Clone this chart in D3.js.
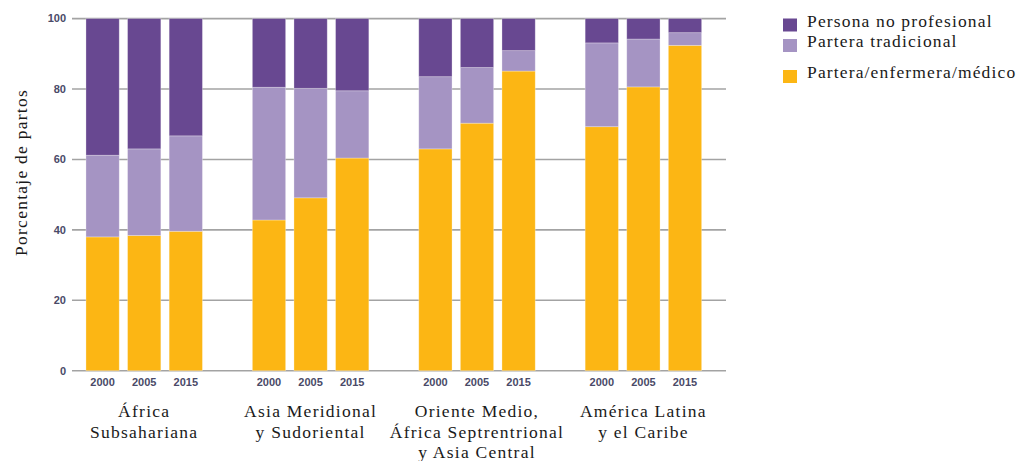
<!DOCTYPE html>
<html>
<head>
<meta charset="utf-8">
<script src="https://cdn.jsdelivr.net/npm/d3@7"></script>
<style>
  html, body { margin: 0; padding: 0; background: #fff; }
  svg { display: block; }
</style>
</head>
<body>
<svg id="chart" width="1018" height="461"></svg>
<script>
// ---- Data ----
const regions = [
  ["África", "Subsahariana"],
  ["Asia Meridional", "y Sudoriental"],
  ["Oriente Medio,", "África Septrentrional", "y Asia Central"],
  ["América Latina", "y el Caribe"]
];
const years = ["2000", "2005", "2015"];
const seriesNames = ["Partera/enfermera/médico", "Partera tradicional", "Persona no profesional"];
// values per bar, ordered region by region, year by year
const profesional   = [38.0, 38.4, 39.6, 42.8, 49.1, 60.4, 63.0, 70.3, 85.1, 69.3, 80.6, 92.4];
const tradicional   = [23.2, 24.6, 27.1, 37.7, 31.1, 19.1, 20.5, 15.8,  5.8, 23.8, 13.6,  3.6];
const noProfesional = [38.8, 37.0, 33.3, 19.5, 19.8, 20.5, 16.5, 13.9,  9.1,  6.9,  5.8,  4.0];
const yTicks = [0, 20, 40, 60, 80, 100];
const legendOrder = ["Persona no profesional", "Partera tradicional", "Partera/enfermera/médico"];
const colors = { "Partera/enfermera/médico": "#fcb614", "Partera tradicional": "#a594c3", "Persona no profesional": "#684891" };

// ---- Build rows ----
const rows = [];
regions.forEach((r, g) => {
  years.forEach((yr, i) => {
    const k = g * years.length + i;
    rows.push({
      slot: g * (years.length + 1) + i,
      region: g, year: yr,
      "Partera/enfermera/médico": profesional[k],
      "Partera tradicional": tradicional[k],
      "Persona no profesional": noProfesional[k]
    });
  });
});

const svg = d3.select("#chart");
const nSlots = regions.length * (years.length + 1) - 1;

const x = d3.scaleBand()
  .domain(d3.range(nSlots))
  .range([81.8, 705.8])
  .paddingInner(0.2)
  .paddingOuter(0.1);

const y = d3.scaleLinear().domain([0, 100]).range([370.7, 18.6]);

const tickFill = "#4a4a68";
const sans = "'Liberation Sans', Arial, sans-serif";
const serif = "'Liberation Serif', 'Times New Roman', serif";

// gridlines
svg.append("g").selectAll("line").data(yTicks).join("line")
  .attr("x1", 72).attr("x2", 726)
  .attr("y1", d => y(d)).attr("y2", d => y(d))
  .attr("stroke", "#a3a3a3").attr("stroke-width", 1.6);

// y tick labels
svg.append("g").selectAll("text").data(yTicks).join("text")
  .attr("x", 66).attr("y", d => y(d)).attr("dy", "0.35em")
  .attr("text-anchor", "end")
  .style("font-family", sans)
  .attr("font-size", 11).attr("font-weight", "bold")
  .attr("fill", tickFill)
  .text(d => d);

// stacked bars
const stack = d3.stack().keys(seriesNames);
const layers = stack(rows);
svg.append("g").selectAll("g").data(layers).join("g")
  .attr("fill", d => colors[d.key])
  .selectAll("rect").data(d => d).join("rect")
  .attr("x", d => x(d.data.slot))
  .attr("width", x.bandwidth())
  .attr("y", d => y(d[1]))
  .attr("height", d => y(d[0]) - y(d[1]))
  .attr("stroke", "rgba(255,255,255,0.35)")
  .attr("stroke-width", 0.8);

// year labels
svg.append("g").selectAll("text").data(rows).join("text")
  .attr("x", d => x(d.slot) + x.bandwidth() / 2)
  .attr("y", 385.5)
  .attr("text-anchor", "middle")
  .style("font-family", sans)
  .attr("font-size", 11).attr("font-weight", "bold")
  .attr("fill", tickFill)
  .text(d => d.year);

// region labels
const rg = svg.append("g");
regions.forEach((lines, g) => {
  const mid = x(g * (years.length + 1) + 1) + x.bandwidth() / 2;
  const t = rg.append("text")
    .attr("text-anchor", "middle")
    .style("font-family", serif)
    .attr("font-size", 17.5)
    .attr("letter-spacing", 1.25)
    .attr("fill", "#1a1a1a");
  lines.forEach((ln, i) => {
    t.append("tspan").attr("x", mid).attr("y", 416.7 + i * 20.8).text(ln);
  });
});

// y axis title
svg.append("text")
  .attr("transform", "translate(27,172.5) rotate(-90)")
  .attr("text-anchor", "middle")
  .style("font-family", serif)
  .attr("font-size", 17.5)
  .attr("letter-spacing", 1.25)
  .attr("fill", "#1a1a1a")
  .text("Porcentaje de partos");

// legend
const legendY = [25.5, 46, 77];
const lg = svg.append("g");
legendOrder.forEach((name, i) => {
  lg.append("rect")
    .attr("x", 783).attr("y", legendY[i] - 7)
    .attr("width", 14).attr("height", 13)
    .attr("fill", colors[name]);
  lg.append("text")
    .attr("x", 807).attr("y", legendY[i] + 1.3)
    .style("font-family", serif)
    .attr("font-size", 17.5)
    .attr("letter-spacing", 1.15)
    .attr("fill", "#1a1a1a")
    .text(name);
});
</script>
</body>
</html>
